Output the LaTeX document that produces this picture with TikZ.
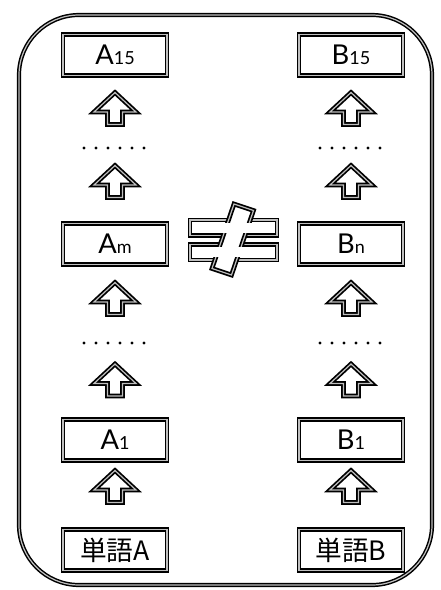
\documentclass[tikz,border=0pt]{standalone}
\usepackage{fontspec}
\setmainfont{Lato}
\newfontfamily\jpfont{Noto Sans CJK JP}
\newcommand\idx[1]{{\fontsize{13.5}{15}\selectfont #1}}
\tikzset{
  dbl/.style={draw=black, line width=1.3pt, double=gray!50, double distance=0.9pt, line join=miter},
  wordbox/.style={dbl, fill=white, minimum width=78pt, minimum height=30.5pt, inner sep=0pt,
                  font=\fontsize{20.5}{24}\selectfont},
  jpbox/.style={wordbox, font=\jpfont\fontsize{20}{24}\selectfont},
  blockarrow/.style={dbl, fill=white},
  frame/.style={dbl, line width=1.1pt, rounded corners=45pt},
  dot/.style={fill=black},
}
% hollow upward block arrow centred at (#1,#2)
\newcommand\uparrowat[2]{%
  \draw[blockarrow] (#1,#2-16) -- (#1+21,#2+3.5) -- (#1+7.5,#2+3.5) -- (#1+7.5,#2+16)
    -- (#1-7.5,#2+16) -- (#1-7.5,#2+3.5) -- (#1-21,#2+3.5) -- cycle;}
% row of six dots centred at (#1,#2)
\newcommand\dotrow[2]{%
  \foreach \k in {0,...,5} \fill[dot] (#1-30+12*\k,#2) circle (1.7);}
\begin{document}
\begin{tikzpicture}[x=0.75pt, y=-0.75pt]
  \useasboundingbox (0,0) rectangle (440,590);

  % outer frame
  \draw[frame] (19,15) rectangle (432,585);

  % left column
  \node[wordbox] (a15) at (115,55)  {A\idx{15}};
  \node[wordbox] (am)  at (115,244) {A\idx{m}};
  \node[wordbox] (a1)  at (115,440) {A\idx{1}};
  \node[jpbox]   (wa)  at (115,550) {単語A};

  % right column
  \node[wordbox] (b15) at (351,55)  {B\idx{15}};
  \node[wordbox] (bn)  at (351,244) {B\idx{n}};
  \node[wordbox] (b1)  at (351,440) {B\idx{1}};
  \node[jpbox]   (wb)  at (351,550) {単語B};

  % block arrows and ellipses between the boxes
  \foreach \cx in {115,351} {
    \uparrowat{\cx}{108.5}
    \uparrowat{\cx}{181.5}
    \uparrowat{\cx}{298.5}
    \uparrowat{\cx}{380}
    \uparrowat{\cx}{486.5}
  }
  \dotrow{114}{148}
  \dotrow{350}{148}
  \dotrow{114}{343}
  \dotrow{350}{343}

  % large "not equal" sign: two bars crossed by a slanted bar
  \draw[dbl, fill=white] (190,220) rectangle (277,235.5);
  \draw[dbl, fill=white] (190,244.5) rectangle (277,260);
  \draw[dbl, fill=white] (234,204) -- (253.5,210.5) -- (231.5,275) -- (212,268.5) -- cycle;
  \fill[white] (192.8,222.8) rectangle (274.2,232.7);
  \fill[white] (192.8,247.3) rectangle (274.2,257.2);
\end{tikzpicture}
\end{document}
